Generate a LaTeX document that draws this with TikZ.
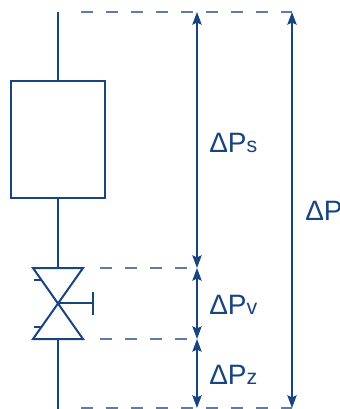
\documentclass[tikz,border=0pt]{standalone}
\usepackage{fontspec}
\setmainfont{Liberation Sans}
\usetikzlibrary{arrows.meta}
\definecolor{pipeblue}{RGB}{24,68,128}
\tikzset{
  pipe/.style={draw=pipeblue, line width=1.5pt},
  dim/.style={draw=pipeblue, line width=0.9pt,
    {Stealth[length=9.5pt,width=7pt,inset=1.5pt]}-{Stealth[length=9.5pt,width=7pt,inset=1.5pt]}},
  guide/.style={draw=pipeblue!70, line width=0.8pt, dash pattern=on 9pt off 9.75pt},
  lbl/.style={text=pipeblue, anchor=base west, inner sep=0pt, font=\fontsize{21}{25}\selectfont}
}
\newcommand{\dP}[1]{ΔP{\fontsize{16}{19}\selectfont #1}}
\begin{document}
\begin{tikzpicture}[x=0.75pt,y=-0.75pt]
\useasboundingbox (0,0) rectangle (339,409);
% pipe, unit and valve
\coordinate (top) at (58,12);
\coordinate (bot) at (58,409);
\node[pipe, minimum width=70.5pt, minimum height=87.75pt, inner sep=0pt] (unit) at (58,139.5) {};
\coordinate (vtop) at (58,268);
\coordinate (vbot) at (58,339);
\coordinate (valve) at (58,303);
\draw[pipe] (top) -- (unit.north);
\draw[pipe] (unit.south) -- (vtop);
\draw[pipe] (vbot) -- (bot);
\draw[pipe, line join=miter] (33,268) -- (83,268) -- (33,339) -- (83,339) -- cycle;
\draw[pipe] (valve) -- (93,303);
\draw[pipe] (93,292) -- (93,315);
\draw[pipe] (34,280) -- (41.6,280);
\draw[pipe] (34,327) -- (41.3,327);
% dimension levels
\coordinate (s1) at (197,12);
\coordinate (s2) at (197,268);
\coordinate (s3) at (197,339);
\coordinate (s4) at (197,408);
\coordinate (t1) at (292,12);
\coordinate (t4) at (292,408);
\draw[guide] (81,12) -- (t1);
\draw[guide] (100,268) -- (s2);
\draw[guide] (100,339) -- (s3);
\draw[guide] (81,408) -- (t4);
\draw[dim] (s1) -- (s2);
\draw[dim] (s2) -- (s3);
\draw[dim] (s3) -- (s4);
\draw[dim] (t1) -- (t4);
% labels
\node[lbl] (dps) at (209,153) {\dP{s}};
\node[lbl] (dpv) at (209,314) {\dP{v}};
\node[lbl] (dpz) at (209,384) {\dP{z}};
\node[lbl] (dp) at (305,220) {ΔP};
\end{tikzpicture}
\end{document}
